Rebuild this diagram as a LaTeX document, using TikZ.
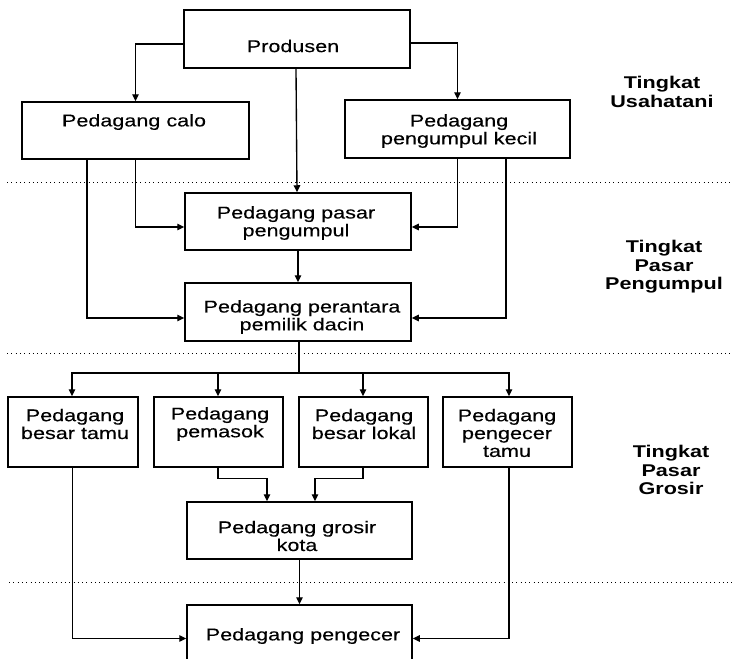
\documentclass[tikz,border=0pt]{standalone}
\usepackage{fontspec}
\setmainfont{Liberation Sans}[FakeStretch=1.27, UprightFeatures={FakeBold=0.3}]
\usetikzlibrary{arrows.meta}
\begin{document}
\begin{tikzpicture}[x=1pt,y=-1pt,
  box/.style={draw, line width=1.5pt, inner sep=0pt},
  txt/.style={align=center, inner sep=0pt, font=\fontsize{17}{17.8}\selectfont},
  lbl/.style={align=center, inner sep=0pt, font=\bfseries\fontsize{17}{18.5}\selectfont},
  arr/.style={line width=1.35pt, -{Triangle[length=7pt,width=6.5pt]}},
  ln/.style={line width=1.35pt},
  dots/.style={line width=0.9pt, dash pattern=on 1pt off 3.3pt}]
\useasboundingbox (0,0) rectangle (732,659);
\fill[white] (0,0) rectangle (732,659);

% boxes
\node[box, minimum width=226pt, minimum height=58pt] (prod) at (297,39) {};
\node[box, minimum width=227pt, minimum height=57pt] (calo) at (135.5,130.5) {};
\node[box, minimum width=225pt, minimum height=58pt] (pk) at (457.5,129) {};
\node[box, minimum width=226pt, minimum height=57pt] (ppasar) at (298,221.5) {};
\node[box, minimum width=226pt, minimum height=58pt] (perant) at (298,312) {};
\node[box, minimum width=130pt, minimum height=70pt] (bt) at (73,432) {};
\node[box, minimum width=129pt, minimum height=70pt] (pem) at (218.5,432) {};
\node[box, minimum width=129pt, minimum height=70pt] (bl) at (363.5,432) {};
\node[box, minimum width=129pt, minimum height=70pt] (pt) at (507.5,432) {};
\node[box, minimum width=225pt, minimum height=57pt] (grosir) at (299.5,530.5) {};
\node[box, minimum width=225pt, minimum height=67pt] (peng) at (299.5,638.5) {};

% texts
\node[txt] (tprod) at (293,46) {Produsen};
\node[txt] (tcalo) at (134,122) {Pedagang calo};
\node[txt] (tpk) at (459,131) {Pedagang\\pengumpul kecil};
\node[txt] (tppasar) at (296,223) {Pedagang pasar\\pengumpul};
\node[txt] (tperant) at (302,317) {Pedagang perantara\\pemilik dacin};
\node[txt] (tbt) at (75,424) {Pedagang\\besar tamu};
\node[txt] (tpem) at (220,424) {Pedagang\\pemasok};
\node[txt] (tbl) at (364,424) {Pedagang\\besar lokal};
\node[txt] (tpt) at (507,433) {Pedagang\\pengecer\\tamu};
\node[txt] (tgrosir) at (297,536) {Pedagang grosir\\kota};
\node[txt] (tpeng) at (303,636) {Pedagang pengecer};

% level labels
\node[lbl] (l1) at (662,92) {Tingkat\\Usahatani};
\node[lbl] (l2) at (664,267) {Tingkat\\Pasar\\Pengumpul};
\node[lbl] (l3) at (671,470) {Tingkat\\Pasar\\Grosir};

% dotted separators
\coordinate (d1a) at (7,182); \coordinate (d1b) at (732,182);
\coordinate (d2a) at (7,353); \coordinate (d2b) at (732,353);
\coordinate (d3a) at (9,582); \coordinate (d3b) at (732,582);
\draw[dots] (d1a) -- (d1b);
\draw[dots] (d2a) -- (d2b);
\draw[dots] (d3a) -- (d3b);

% connectors
\draw[arr] ([yshift=-5pt]prod.west) -| (calo.north);
\draw[arr] ([yshift=-4pt]prod.east) -| (pk.north);
\draw[arr] ([xshift=-1pt]prod.south) -- ([xshift=-1pt]ppasar.north);
\draw[arr] (calo.south) |- ([yshift=-5.5pt]ppasar.west);
\draw[arr] ([xshift=-48.5pt]calo.south) |- ([yshift=-6pt]perant.west);
\draw[arr] (pk.south) |- ([yshift=-5.5pt]ppasar.east);
\draw[arr] ([xshift=48.5pt]pk.south) |- ([yshift=-6pt]perant.east);
\draw[arr] (ppasar.south) -- (perant.north);

\coordinate (bus) at (299,373);
\draw[ln] ([xshift=1pt]perant.south) -- (bus);
\draw[arr] (bus) -| ([xshift=-1pt]bt.north);
\draw[arr] (bus) -| ([xshift=-0.5pt]pem.north);
\draw[arr] (bus) -| ([xshift=-0.5pt]bl.north);
\draw[arr] (bus) -| ([xshift=1.5pt]pt.north);

\draw[arr] ([xshift=-0.5pt]pem.south) -- ++(0,11) -| ([xshift=-32.5pt]grosir.north);
\draw[arr] ([xshift=-0.5pt]bl.south) -- ++(0,11) -| ([xshift=15.5pt]grosir.north);
\draw[arr] (grosir.south) -- (peng.north);
\draw[arr] ([xshift=-0.5pt]bt.south) |- (peng.west);
\draw[arr] ([xshift=1.5pt]pt.south) |- (peng.east);
\end{tikzpicture}
\end{document}
